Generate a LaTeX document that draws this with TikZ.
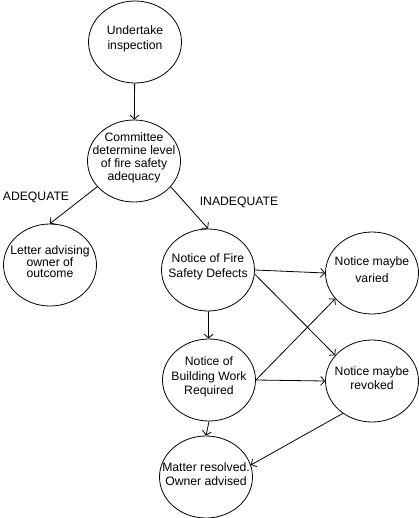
\documentclass[tikz,border=0pt]{standalone}
\usepackage{fontspec}
\setmainfont{Liberation Sans}
\usetikzlibrary{shapes.geometric,arrows.meta}

\tikzset{
  bubble/.style={ellipse, draw, line width=0.8pt, minimum width=93pt, minimum height=82pt, inner sep=0pt},
  words/.style={align=center, inner sep=0pt, font=\fontsize{12.2}{14.5}\selectfont, yshift=3pt},
  tag/.style={font=\fontsize{12.2}{14.5}\selectfont, inner sep=0pt},
  flow/.style={-{Straight Barb[length=4pt,width=9pt]}, line width=0.8pt},
}

\begin{document}
\begin{tikzpicture}[x=1pt, y=-1pt]
\useasboundingbox (0,0) rectangle (419,518);
% the eight steps
\node[bubble, label={[words]center:{Undertake\\inspection}}] (insp) at (135,42) {};
\node[bubble, label={[words, font=\fontsize{12.2}{13}\selectfont]center:{Committee\\determine level\\of fire safety\\adequacy}}] (cttee) at (134,161) {};
\node[bubble, label={[words, font=\fontsize{12.2}{11.5}\selectfont]center:{Letter advising\\owner of\\outcome}}] (letter) at (50,265) {};
\node[bubble, label={[words]center:{Notice of Fire\\Safety Defects}}] (fsd) at (208,270) {};
\node[bubble, label={[words, font=\fontsize{12.2}{17}\selectfont]center:{Notice maybe\\varied}}] (varied) at (372,273) {};
\node[bubble, label={[words]center:{Notice of\\Building Work\\Required}}] (bwr) at (209,380) {};
\node[bubble, label={[words]center:{Notice maybe\\revoked}}] (revoked) at (372,381) {};
\node[bubble, label={[words]center:{Matter resolved.\\Owner advised}}] (resolved) at (206,477) {};
% outcomes of the committee
\node[tag] (adq) at (36,197) {ADEQUATE};
\node[tag] (inadq) at (239,202) {INADEQUATE};
% connectors
\draw[flow] (insp) -- (cttee);
\draw[flow] (cttee.215) -- (letter.north);
\draw[flow] (cttee.-35) -- (fsd.north);
\draw[flow] (fsd.east) -- (varied.west);
\draw[flow] (fsd.-5) -- (revoked.145);
\draw[flow] (fsd) -- (bwr);
\draw[flow] (bwr.east) -- (varied.215);
\draw[flow] (bwr.east) -- (revoked.west);
\draw[flow] (bwr.south) -- (resolved.north);
\draw[flow] (revoked.228) -- (resolved.15);
\end{tikzpicture}
\end{document}
